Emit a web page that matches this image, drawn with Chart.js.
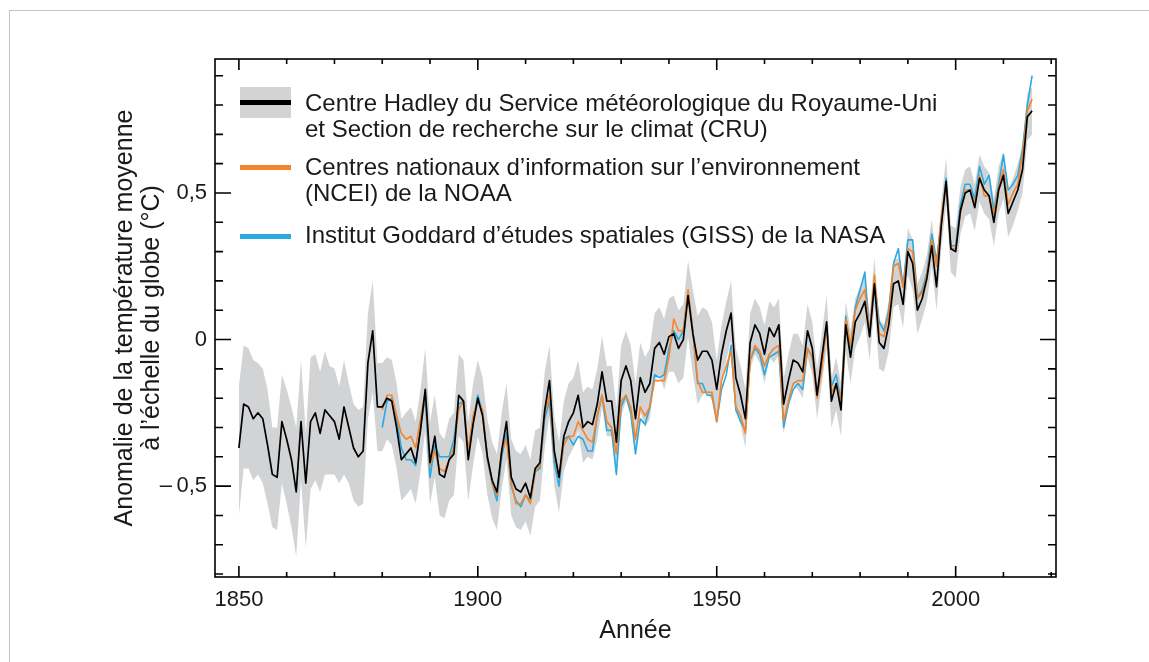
<!DOCTYPE html>
<html lang="fr">
<head>
<meta charset="utf-8">
<title>Anomalie de la température moyenne à l'échelle du globe</title>
<script src="https://cdn.jsdelivr.net/npm/chart.js@4.4.1/dist/chart.umd.min.js"></script>
<style>
  html, body { margin: 0; padding: 0; background: #fff; }
  #wrap { position: relative; width: 1149px; height: 662px; overflow: hidden; font-family: "Liberation Sans", Arial, sans-serif; color: #1a1a1a; }
  #frame { position: absolute; left: 9px; top: 10px; width: 1300px; height: 800px; border-top: 1.5px solid #c4c4c4; border-left: 1.5px solid #c4c4c4; }
  #chart { position: absolute; left: 0; top: 0; }
  .sw { position: absolute; left: 240px; width: 51px; }
  .txt { position: absolute; left: 305px; font-size: 24px; line-height: 26px; white-space: nowrap; }
</style>
</head>
<body>
<div id="wrap">
  <div id="frame"></div>
  <canvas id="chart" width="1149" height="662"></canvas>
  <div class="sw" style="top:87px;height:31px;background:#d2d3d5"></div>
  <div class="sw" style="top:100px;height:5px;background:#000"></div>
  <div class="txt" style="top:90px">Centre Hadley du Service météorologique du Royaume-Uni<br>et Section de recherche sur le climat (CRU)</div>
  <div class="sw" style="top:165px;height:5px;background:#f5842b"></div>
  <div class="txt" style="top:154px">Centres nationaux d’information sur l’environnement<br>(NCEI) de la NOAA</div>
  <div class="sw" style="top:234px;height:5px;background:#2aaae2"></div>
  <div class="txt" style="top:222px">Institut Goddard d’études spatiales (GISS) de la NASA</div>
</div>
<script>
// HadCRUT4 (Hadley/CRU), 1850-2016, anomalies in °C
const hadcrut = [
  -0.37, -0.22, -0.23, -0.27, -0.25, -0.27, -0.36, -0.46, -0.47, -0.28,
  -0.34, -0.41, -0.52, -0.28, -0.49, -0.28, -0.25, -0.32, -0.24, -0.26,
  -0.28, -0.34, -0.23, -0.30, -0.37, -0.40, -0.38, -0.08, 0.03, -0.23,
  -0.23, -0.20, -0.21, -0.30, -0.41, -0.39, -0.37, -0.42, -0.31, -0.17,
  -0.42, -0.33, -0.46, -0.47, -0.41, -0.39, -0.19, -0.21, -0.41, -0.29,
  -0.20, -0.26, -0.40, -0.48, -0.52, -0.38, -0.28, -0.47, -0.51, -0.52,
  -0.49, -0.54, -0.44, -0.42, -0.24, -0.14, -0.38, -0.47, -0.33, -0.28,
  -0.25, -0.19, -0.30, -0.28, -0.29, -0.22, -0.11, -0.21, -0.21, -0.35,
  -0.14, -0.09, -0.14, -0.27, -0.13, -0.18, -0.15, -0.03, -0.01, -0.05,
  0.01, 0.02, -0.03, 0.00, 0.15, 0.02, -0.07, -0.04, -0.04, -0.07,
  -0.17, -0.05, 0.03, 0.09, -0.13, -0.19, -0.27, -0.01, 0.05, 0.02,
  -0.05, 0.04, 0.01, 0.05, -0.22, -0.14, -0.07, -0.08, -0.11, 0.03,
  -0.03, -0.19, -0.06, 0.06, -0.21, -0.15, -0.24, 0.05, -0.06, 0.06,
  0.09, 0.13, 0.01, 0.19, -0.01, -0.03, 0.05, 0.19, 0.20, 0.12,
  0.30, 0.26, 0.10, 0.14, 0.21, 0.32, 0.18, 0.39, 0.54, 0.31,
  0.30, 0.44, 0.50, 0.51, 0.45, 0.55, 0.51, 0.49, 0.40, 0.51,
  0.56, 0.43, 0.47, 0.51, 0.58, 0.76, 0.78
];
// uncertainty range of HadCRUT4
const hadHigh = [
  -0.16, -0.02, -0.03, -0.07, -0.08, -0.10, -0.17, -0.30, -0.30, -0.12,
  -0.17, -0.23, -0.30, -0.07, -0.32, -0.06, -0.05, -0.11, -0.04, -0.09,
  -0.10, -0.16, -0.07, -0.15, -0.22, -0.24, -0.23, 0.09, 0.20, -0.08,
  -0.08, -0.06, -0.07, -0.15, -0.27, -0.25, -0.23, -0.28, -0.17, -0.03,
  -0.28, -0.19, -0.32, -0.34, -0.27, -0.25, -0.05, -0.07, -0.28, -0.15,
  -0.07, -0.13, -0.27, -0.35, -0.39, -0.25, -0.15, -0.34, -0.38, -0.39,
  -0.36, -0.41, -0.31, -0.30, -0.11, -0.02, -0.26, -0.35, -0.21, -0.15,
  -0.13, -0.07, -0.18, -0.16, -0.17, -0.10, 0.01, -0.09, -0.09, -0.23,
  -0.02, 0.03, -0.02, -0.15, -0.01, -0.06, -0.03, 0.09, 0.11, 0.07,
  0.14, 0.15, 0.10, 0.12, 0.27, 0.17, 0.08, 0.11, 0.10, 0.06,
  -0.07, 0.05, 0.13, 0.20, -0.03, -0.09, -0.17, 0.09, 0.14, 0.11,
  0.05, 0.13, 0.11, 0.14, -0.13, -0.05, 0.02, 0.02, -0.02, 0.12,
  0.06, -0.10, 0.02, 0.15, -0.13, -0.06, -0.15, 0.13, 0.03, 0.14,
  0.18, 0.22, 0.09, 0.28, 0.07, 0.05, 0.13, 0.27, 0.28, 0.20,
  0.38, 0.34, 0.19, 0.23, 0.29, 0.41, 0.27, 0.47, 0.62, 0.39,
  0.38, 0.52, 0.58, 0.59, 0.53, 0.63, 0.59, 0.57, 0.48, 0.59,
  0.64, 0.51, 0.55, 0.60, 0.66, 0.84, 0.86
];
const hadLow = [
  -0.60, -0.44, -0.44, -0.48, -0.46, -0.49, -0.56, -0.64, -0.65, -0.49,
  -0.56, -0.64, -0.74, -0.48, -0.71, -0.51, -0.48, -0.52, -0.46, -0.46,
  -0.46, -0.49, -0.46, -0.49, -0.55, -0.57, -0.56, -0.27, -0.18, -0.38,
  -0.38, -0.34, -0.36, -0.44, -0.55, -0.53, -0.51, -0.56, -0.45, -0.31,
  -0.56, -0.47, -0.60, -0.61, -0.55, -0.53, -0.33, -0.35, -0.55, -0.43,
  -0.33, -0.39, -0.53, -0.61, -0.65, -0.51, -0.41, -0.60, -0.64, -0.65,
  -0.62, -0.67, -0.57, -0.55, -0.37, -0.26, -0.50, -0.59, -0.45, -0.40,
  -0.37, -0.31, -0.42, -0.40, -0.41, -0.34, -0.23, -0.33, -0.33, -0.47,
  -0.26, -0.21, -0.26, -0.39, -0.25, -0.30, -0.27, -0.14, -0.12, -0.17,
  -0.11, -0.11, -0.15, -0.13, 0.01, -0.12, -0.22, -0.19, -0.18, -0.21,
  -0.28, -0.15, -0.07, 0.00, -0.23, -0.29, -0.37, -0.10, -0.05, -0.08,
  -0.15, -0.06, -0.08, -0.05, -0.32, -0.23, -0.16, -0.17, -0.20, -0.06,
  -0.12, -0.27, -0.15, -0.03, -0.30, -0.24, -0.33, -0.04, -0.15, -0.03,
  0.01, 0.06, -0.07, 0.11, -0.10, -0.11, -0.04, 0.11, 0.12, 0.04,
  0.22, 0.17, 0.02, 0.07, 0.13, 0.25, 0.10, 0.31, 0.46, 0.23,
  0.21, 0.36, 0.42, 0.43, 0.37, 0.47, 0.43, 0.41, 0.32, 0.43,
  0.48, 0.35, 0.39, 0.44, 0.50, 0.68, 0.70
];
// NOAA NCEI, 1880-2016
const noaa = [
  -0.24, -0.19, -0.19, -0.26, -0.32, -0.34, -0.33, -0.37, -0.27, -0.18,
  -0.43, -0.38, -0.44, -0.45, -0.41, -0.37, -0.24, -0.21, -0.38, -0.26,
  -0.21, -0.24, -0.40, -0.49, -0.53, -0.38, -0.34, -0.49, -0.56, -0.56,
  -0.53, -0.56, -0.45, -0.43, -0.25, -0.19, -0.39, -0.47, -0.36, -0.33,
  -0.33, -0.28, -0.31, -0.34, -0.35, -0.26, -0.19, -0.28, -0.30, -0.39,
  -0.21, -0.19, -0.23, -0.34, -0.23, -0.26, -0.23, -0.14, -0.14, -0.14,
  -0.06, 0.07, 0.03, 0.03, 0.17, 0.03, -0.14, -0.18, -0.18, -0.18,
  -0.28, -0.14, -0.09, -0.04, -0.23, -0.26, -0.32, -0.07, -0.02, -0.04,
  -0.09, -0.05, -0.03, -0.02, -0.28, -0.21, -0.15, -0.14, -0.14, -0.03,
  -0.06, -0.20, -0.10, 0.05, -0.18, -0.15, -0.21, 0.07, -0.02, 0.10,
  0.14, 0.17, 0.02, 0.22, 0.02, 0.01, 0.09, 0.25, 0.26, 0.18,
  0.31, 0.30, 0.14, 0.16, 0.22, 0.34, 0.25, 0.42, 0.53, 0.31,
  0.31, 0.43, 0.51, 0.51, 0.46, 0.56, 0.49, 0.49, 0.43, 0.52,
  0.58, 0.46, 0.50, 0.53, 0.63, 0.78, 0.82
];
// NASA GISS, 1880-2016
const giss = [
  -0.30, -0.21, -0.20, -0.27, -0.37, -0.41, -0.41, -0.43, -0.30, -0.20,
  -0.47, -0.36, -0.40, -0.40, -0.40, -0.34, -0.22, -0.21, -0.38, -0.28,
  -0.19, -0.25, -0.41, -0.49, -0.55, -0.40, -0.32, -0.50, -0.55, -0.57,
  -0.53, -0.55, -0.45, -0.44, -0.27, -0.21, -0.42, -0.50, -0.34, -0.33,
  -0.36, -0.33, -0.34, -0.38, -0.38, -0.26, -0.19, -0.31, -0.31, -0.46,
  -0.23, -0.19, -0.25, -0.39, -0.27, -0.29, -0.23, -0.12, -0.13, -0.12,
  -0.03, 0.03, 0.00, 0.03, 0.16, 0.03, -0.15, -0.15, -0.19, -0.19,
  -0.28, -0.17, -0.12, -0.02, -0.24, -0.28, -0.31, -0.07, -0.03, -0.05,
  -0.12, -0.06, -0.05, -0.04, -0.30, -0.22, -0.17, -0.15, -0.17, -0.03,
  -0.06, -0.19, -0.08, 0.05, -0.16, -0.12, -0.21, 0.08, -0.03, 0.11,
  0.17, 0.23, 0.01, 0.20, 0.06, 0.03, 0.10, 0.26, 0.31, 0.18,
  0.34, 0.34, 0.14, 0.17, 0.23, 0.36, 0.27, 0.40, 0.55, 0.32,
  0.32, 0.46, 0.53, 0.53, 0.48, 0.59, 0.53, 0.56, 0.44, 0.53,
  0.63, 0.51, 0.53, 0.56, 0.65, 0.80, 0.90
];
const firstYear = 1850;
const firstYearNoaa = 1880;

const xLabelYears = [1850, 1900, 1950, 2000];
const xTickYears = [1850, 1860, 1870, 1880, 1890, 1900, 1910, 1920, 1930, 1940, 1950, 1960, 1970, 1980, 1990, 2000, 2010, 2020];
const yLabelValues = [-0.5, 0, 0.5];
const yTickValues = [-0.8, -0.7, -0.6, -0.5, -0.4, -0.3, -0.2, -0.1, 0, 0.1, 0.2, 0.3, 0.4, 0.5, 0.6, 0.7, 0.8, 0.9];

const bandColor = "#d2d3d5";
const orange = "#f5842b";
const blue = "#2aaae2";
const fontFamily = "'Liberation Sans', Arial, sans-serif";

function toPoints(values, start) {
  return values.map((v, i) => ({ x: start + i, y: v }));
}

function fmt(v) {
  if (v === 0) return "0";
  const s = Math.abs(v).toFixed(1).replace(".", ",");
  return v < 0 ? "\u2013\u2009" + s : s;
}

// frame and inward ticks on all four sides
const axisFrame = {
  id: "axisFrame",
  afterDraw(chart) {
    const ctx = chart.ctx;
    const a = chart.chartArea;
    const xs = chart.scales.x;
    const ys = chart.scales.y;
    ctx.save();
    ctx.strokeStyle = "#000";
    ctx.lineWidth = 1.6;
    ctx.beginPath();
    xTickYears.forEach(yr => {
      const px = xs.getPixelForValue(yr);
      const len = xLabelYears.includes(yr) ? 11 : 5;
      ctx.moveTo(px, a.bottom); ctx.lineTo(px, a.bottom - len);
      ctx.moveTo(px, a.top); ctx.lineTo(px, a.top + len);
    });
    yTickValues.forEach(v => {
      const py = ys.getPixelForValue(v);
      const len = yLabelValues.includes(v) ? 16 : 8;
      ctx.moveTo(a.left, py); ctx.lineTo(a.left + len, py);
      ctx.moveTo(a.right, py); ctx.lineTo(a.right - len, py);
    });
    ctx.stroke();
    ctx.strokeRect(a.left, a.top, a.right - a.left, a.bottom - a.top);
    ctx.restore();
  }
};

new Chart(document.getElementById("chart"), {
  type: "line",
  data: {
    datasets: [
      {
        label: "hadLow",
        data: toPoints(hadLow, firstYear),
        borderWidth: 0,
        pointRadius: 0,
        fill: false,
        order: 4
      },
      {
        label: "hadHigh",
        data: toPoints(hadHigh, firstYear),
        borderWidth: 0,
        pointRadius: 0,
        backgroundColor: bandColor,
        fill: "-1",
        order: 3
      },
      {
        label: "GISS",
        data: toPoints(giss, firstYearNoaa),
        borderColor: blue,
        borderWidth: 1.6,
        pointRadius: 0,
        fill: false,
        order: 2
      },
      {
        label: "NOAA",
        data: toPoints(noaa, firstYearNoaa),
        borderColor: orange,
        borderWidth: 1.6,
        pointRadius: 0,
        fill: false,
        order: 1
      },
      {
        label: "HadCRUT",
        data: toPoints(hadcrut, firstYear),
        borderColor: "#000",
        borderWidth: 1.7,
        pointRadius: 0,
        fill: false,
        order: 0
      }
    ]
  },
  options: {
    responsive: false,
    animation: false,
    devicePixelRatio: 1,
    layout: { padding: { left: 0, top: 59, right: 93, bottom: 0 } },
    plugins: { legend: { display: false }, tooltip: { enabled: false } },
    elements: { line: { tension: 0, borderJoinStyle: "round" } },
    scales: {
      x: {
        type: "linear",
        min: 1845,
        max: 2021,
        grid: { display: false, drawTicks: false },
        border: { display: false },
        afterBuildTicks: s => { s.ticks = xLabelYears.map(v => ({ value: v })); },
        afterFit: s => { s.height = 85; },
        ticks: {
          padding: 10,
          color: "#1a1a1a",
          font: { family: fontFamily, size: 22 },
          callback: v => String(v)
        },
        title: {
          display: true,
          text: "Année",
          color: "#1a1a1a",
          font: { family: fontFamily, size: 25, lineHeight: "27px" },
          padding: { top: 0, bottom: 17 }
        }
      },
      y: {
        min: -0.81,
        max: 0.957,
        grid: { display: false, drawTicks: false },
        border: { display: false },
        afterBuildTicks: s => { s.ticks = yLabelValues.map(v => ({ value: v })); },
        afterFit: s => { s.width = 215; },
        ticks: {
          padding: 8,
          color: "#1a1a1a",
          font: { family: fontFamily, size: 22 },
          callback: v => fmt(v)
        },
        title: {
          display: true,
          text: ["Anomalie de la température moyenne", "à l’échelle du globe (°C)"],
          color: "#1a1a1a",
          font: { family: fontFamily, size: 25, lineHeight: "27px" },
          padding: { top: 112, bottom: 0 }
        }
      }
    }
  },
  plugins: [axisFrame]
});
</script>
</body>
</html>
